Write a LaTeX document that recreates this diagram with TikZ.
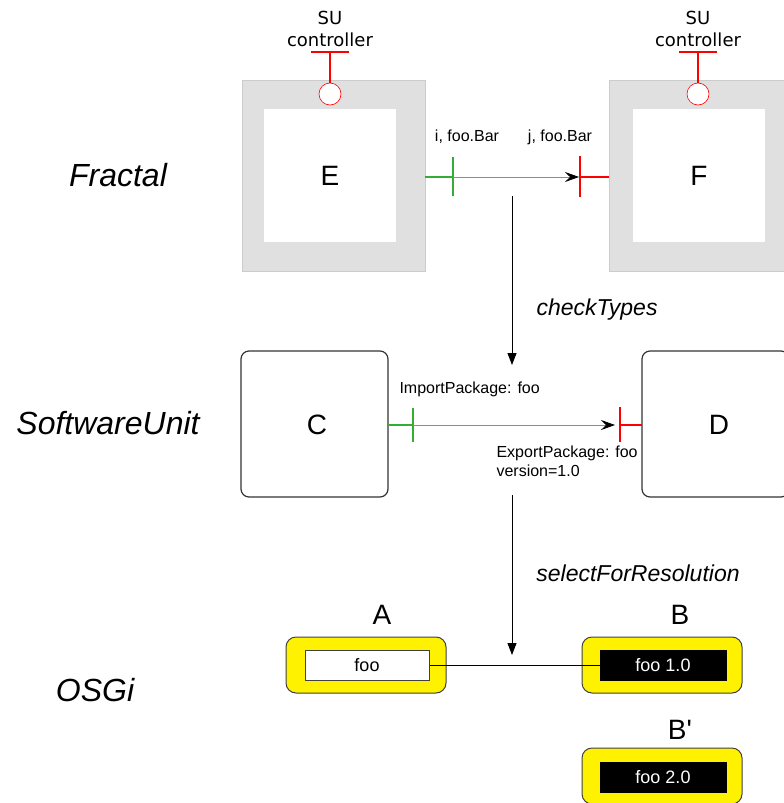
\documentclass[tikz,border=0pt]{standalone}
\usepackage{fontspec}
\setmainfont{Liberation Sans}
\newfontfamily\dejavu{DejaVu Sans}
\usetikzlibrary{arrows.meta}
\newcommand\straightquote{\XeTeXglyph\XeTeXcharglyph"27\relax}
\begin{document}
\begin{tikzpicture}[x=1pt,y=-1pt,
  graybox/.style={draw=black!20,fill=black!12,line width=0.8pt,minimum width=183pt,minimum height=191pt,inner sep=0pt},
  whitebox/.style={fill=white,minimum width=132pt,minimum height=133pt,inner sep=0pt,font=\fontsize{28}{30}\selectfont},
  unitbox/.style={draw=black!80,rounded corners=8pt,line width=1.2pt,fill=white,minimum width=147pt,minimum height=146pt,inner sep=0pt,font=\fontsize{28}{30}\selectfont},
  yellowbox/.style={draw=black!75,fill=yellow,rounded corners=10pt,line width=1pt,minimum width=160pt,minimum height=56pt,inner sep=0pt},
  reqbox/.style={draw=black!75,fill=white,line width=1pt,minimum width=124pt,minimum height=30pt,inner sep=0pt,font=\fontsize{18}{20}\selectfont},
  capbox/.style={draw=black,fill=black,text=white,minimum width=126pt,minimum height=30pt,inner sep=0pt,font=\fontsize{18}{20}\selectfont},
  layer/.style={font=\fontsize{32}{36}\selectfont\itshape},
  small/.style={font=\fontsize{16}{19}\selectfont},
  verb/.style={font=\fontsize{23}{26}\selectfont\itshape},
  big/.style={font=\fontsize{28}{30}\selectfont},
  ctrl/.style={font=\dejavu\fontsize{18}{22}\selectfont,align=center},
  req/.style={draw=green!60!black!80,line width=1.6pt},
  prov/.style={draw=red,line width=1.8pt},
  wire/.style={draw=black!45,line width=0.8pt,-{Stealth[black,length=14pt,width=10pt,inset=5pt]}},
  flow/.style={draw=black,line width=1pt,-{Triangle[length=12pt,width=9pt]}},
  ring/.style={circle,draw=red,fill=white,line width=0.6pt,minimum size=22pt,inner sep=0pt}
]
\useasboundingbox (0,0) rectangle (784,803);

% ---------- Fractal layer ----------
\node[layer] (lfrac) at (118,175) {Fractal};
\node[graybox] (Eo) at (333.5,175.5) {};
\node[whitebox] (Ei) at (330,175.5) {E};
\node[graybox] (Fo) at (700.5,175.5) {};
\node[whitebox] (Fi) at (699,175.5) {F};

\node[ring] (Ec) at (330,94) {};
\coordinate (Et) at (330,52);
\draw[prov] (Ec.north) -- (Et);
\draw[prov] (311,52) -- (349,52);
\node[ctrl] (Elab) at (330,29) {SU\\controller};

\node[ring] (Fc) at (698,94) {};
\coordinate (Ft) at (698,52);
\draw[prov] (Fc.north) -- (Ft);
\draw[prov] (679,52) -- (717,52);
\node[ctrl] (Flab) at (698,29) {SU\\controller};

\coordinate (Eport) at (425,177);
\coordinate (Ebar) at (453,177);
\coordinate (Fbar) at (580,177);
\coordinate (Fport) at (609,177);
\draw[req] (Eport) -- (Ebar);
\draw[req] (453,157) -- (453,196);
\draw[wire,shorten >=1pt] (Ebar) -- (Fbar);
\draw[prov] (Fbar) -- (Fport);
\draw[prov] (580,156) -- (580,197);
\node[small] (il) at (467,137) {i, foo.Bar};
\node[small] (jl) at (560,137) {j, foo.Bar};

\coordinate (a1s) at (512,196);
\coordinate (a1e) at (512,365);
\draw[flow] (a1s) -- (a1e);
\node[verb] (ct) at (597,310) {checkTypes};

% ---------- SoftwareUnit layer ----------
\node[layer] (lsu) at (108,423) {SoftwareUnit};
\node[unitbox] (C) at (314.5,424) {};
\node[big] (Ct) at (317,425) {C};
\node[unitbox] (D) at (715.5,424) {};
\node[big] (Dt) at (719,425) {D};

\coordinate (Cport) at (388,425);
\coordinate (Cbar) at (413,425);
\coordinate (Dbar) at (620,425);
\coordinate (Dport) at (642,425);
\draw[req] (Cport) -- (Cbar);
\draw[req] (413,408) -- (413,442);
\draw[wire,shorten >=5pt] (Cbar) -- (Dbar);
\draw[prov] (Dbar) -- (Dport);
\draw[prov] (620,407) -- (620,442);
\node[small,anchor=west] (ipl) at (396,389) {ImportPackage: foo};
\node[small,anchor=west,align=left] (epl) at (493,461) {ExportPackage: foo\\version=1.0};

\coordinate (a2s) at (512,495);
\coordinate (a2e) at (512,655);
\draw[flow] (a2s) -- (a2e);
\node[verb] (sr) at (638,573) {selectForResolution};

% ---------- OSGi layer ----------
\node[layer] (losgi) at (95,690) {OSGi};
\node[yellowbox] (Ao) at (366,665) {};
\node[reqbox] (Ai) at (367,665) {foo};
\node[big] (Al) at (382,615) {A};
\node[yellowbox] (Bo) at (662,665) {};
\node[capbox] (Bi) at (663,665) {foo 1.0};
\node[big] (Bl) at (680,615) {B};
\node[yellowbox] (B2o) at (662,776) {};
\node[capbox] (B2i) at (663,777) {foo 2.0};
\node[big] (B2l) at (680,730) {B\straightquote};

\draw[black,line width=1pt] (Ai.east) -- (Bi.west);
\end{tikzpicture}
\end{document}
